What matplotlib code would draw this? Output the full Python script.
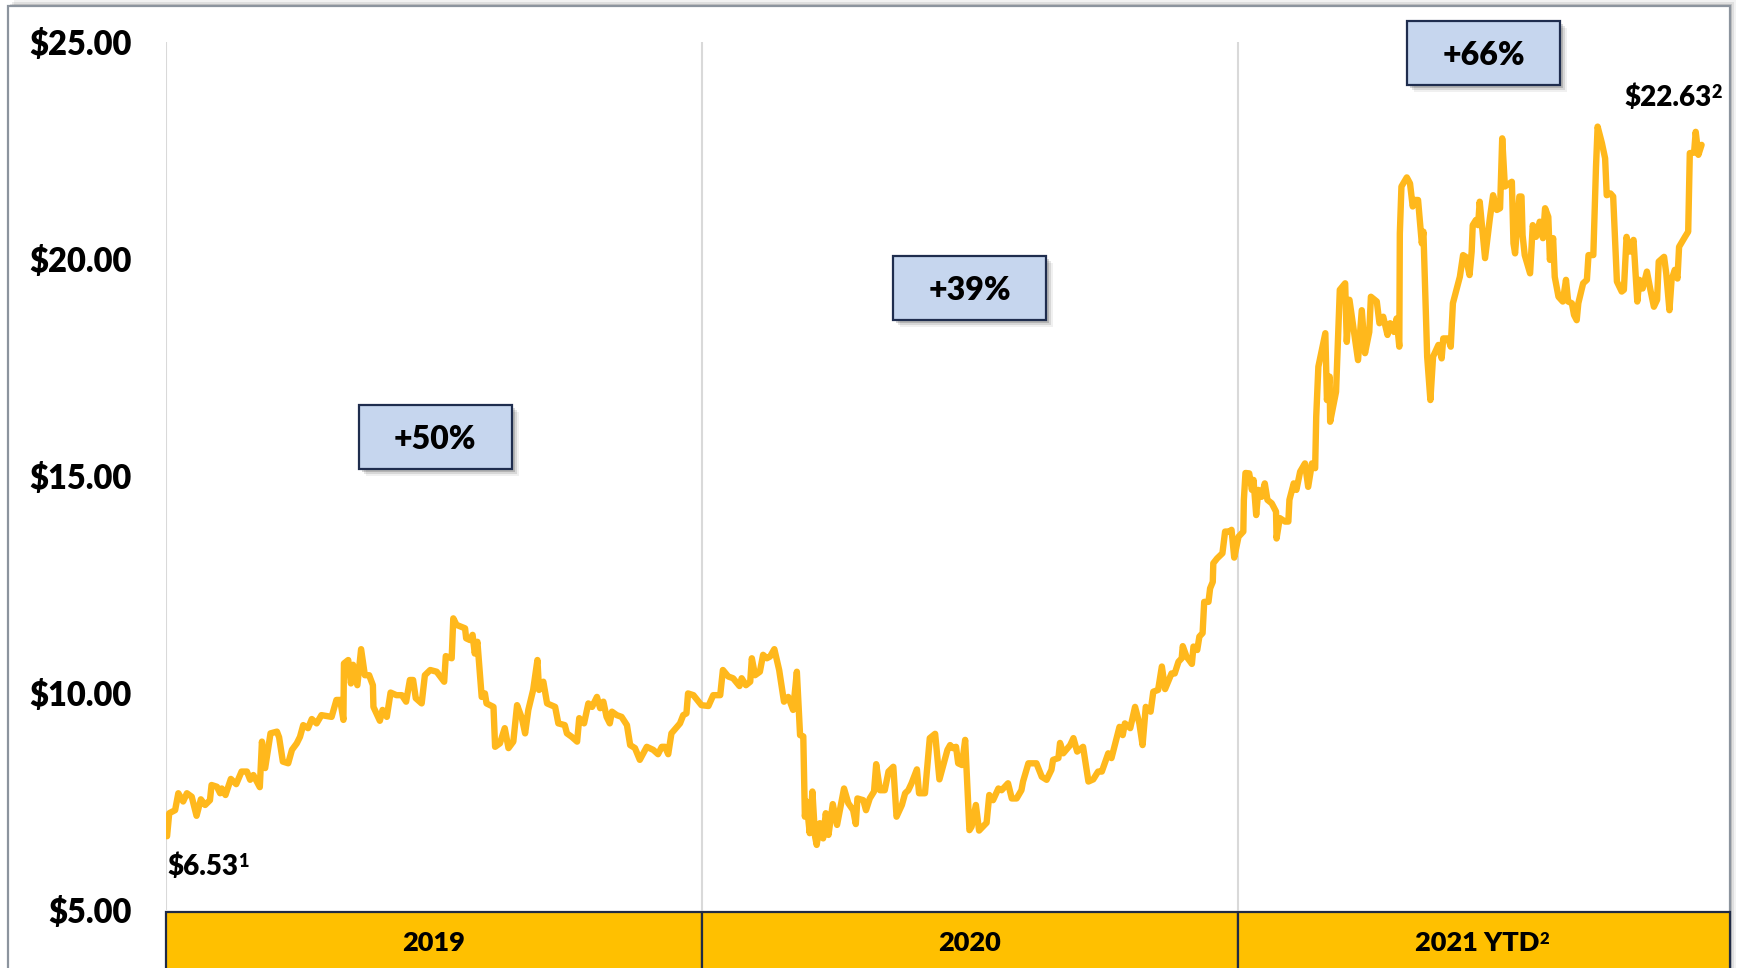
import matplotlib
matplotlib.use("Agg")
import matplotlib.pyplot as plt
from matplotlib.patches import Rectangle

plt.rcParams['font.family'] = ['Lato', 'DejaVu Sans']
plt.rcParams['text.parse_math'] = False
WEIGHT = "heavy"

# ---------------- data (years elapsed since 1 Jan 2019, share price $) ----------------
years_elapsed = [
    0.002, 0.006, 0.017, 0.023, 0.032, 0.039, 0.048, 0.057, 0.065, 0.073, 0.082, 0.085, 0.095, 0.101,
    0.104, 0.111, 0.121, 0.131, 0.141, 0.151, 0.157, 0.163, 0.175, 0.179, 0.185, 0.195, 0.207, 0.211,
    0.218, 0.228, 0.235, 0.244, 0.250, 0.256, 0.265, 0.272, 0.281, 0.290, 0.309, 0.318, 0.325, 0.331,
    0.332, 0.340, 0.345, 0.349, 0.357, 0.364, 0.371, 0.379, 0.386, 0.387, 0.399, 0.404, 0.412, 0.419,
    0.430, 0.440, 0.448, 0.455, 0.461, 0.466, 0.477, 0.483, 0.493, 0.505, 0.519, 0.522, 0.533, 0.536,
    0.542, 0.558, 0.560, 0.567, 0.572, 0.576, 0.581, 0.589, 0.595, 0.598, 0.611, 0.614, 0.623, 0.632,
    0.639, 0.648, 0.655, 0.664, 0.670, 0.676, 0.685, 0.693, 0.696, 0.704, 0.711, 0.726, 0.732, 0.744,
    0.748, 0.757, 0.767, 0.771, 0.780, 0.788, 0.795, 0.804, 0.810, 0.816, 0.822, 0.828, 0.832, 0.841,
    0.850, 0.860, 0.866, 0.875, 0.884, 0.897, 0.909, 0.918, 0.925, 0.931, 0.937, 0.943, 0.959, 0.965,
    0.971, 0.974, 0.984, 0.999, 1.012, 1.021, 1.034, 1.039, 1.049, 1.058, 1.070, 1.074, 1.082, 1.090,
    1.093, 1.099, 1.108, 1.114, 1.121, 1.127, 1.135, 1.144, 1.153, 1.161, 1.170, 1.177, 1.183, 1.189,
    1.192, 1.195, 1.201, 1.206, 1.211, 1.214, 1.220, 1.226, 1.231, 1.236, 1.244, 1.252, 1.265, 1.273,
    1.282, 1.287, 1.290, 1.301, 1.306, 1.313, 1.321, 1.325, 1.332, 1.341, 1.348, 1.357, 1.363, 1.373,
    1.379, 1.385, 1.391, 1.401, 1.405, 1.416, 1.425, 1.435, 1.443, 1.453, 1.458, 1.463, 1.468, 1.474,
    1.478, 1.485, 1.491, 1.499, 1.503, 1.511, 1.517, 1.531, 1.536, 1.543, 1.553, 1.559, 1.571, 1.578,
    1.587, 1.596, 1.599, 1.609, 1.624, 1.634, 1.643, 1.652, 1.655, 1.665, 1.668, 1.674, 1.687, 1.693,
    1.700, 1.711, 1.721, 1.730, 1.739, 1.746, 1.758, 1.764, 1.771, 1.779, 1.785, 1.789, 1.799, 1.808,
    1.816, 1.822, 1.828, 1.837, 1.842, 1.851, 1.858, 1.864, 1.876, 1.882, 1.889, 1.895, 1.897, 1.904,
    1.914, 1.917, 1.924, 1.928, 1.934, 1.937, 1.945, 1.948, 1.953, 1.954, 1.961, 1.971, 1.976, 1.984,
    1.988, 1.993, 2.001, 2.010, 2.011, 2.014, 2.021, 2.026, 2.029, 2.034, 2.038, 2.044, 2.050, 2.055,
    2.063, 2.071, 2.072, 2.078, 2.088, 2.094, 2.096, 2.104, 2.109, 2.116, 2.125, 2.131, 2.138, 2.144,
    2.146, 2.150, 2.163, 2.166, 2.171, 2.172, 2.183, 2.190, 2.200, 2.203, 2.208, 2.216, 2.224, 2.231,
    2.237, 2.245, 2.248, 2.259, 2.264, 2.271, 2.279, 2.284, 2.291, 2.296, 2.301, 2.302, 2.305, 2.315,
    2.321, 2.326, 2.330, 2.336, 2.343, 2.346, 2.353, 2.359, 2.364, 2.374, 2.380, 2.383, 2.392, 2.397,
    2.401, 2.414, 2.420, 2.425, 2.432, 2.436, 2.438, 2.444, 2.448, 2.451, 2.461, 2.470, 2.476, 2.483,
    2.489, 2.493, 2.498, 2.511, 2.514, 2.517, 2.525, 2.529, 2.531, 2.535, 2.545, 2.550, 2.556, 2.563,
    2.569, 2.573, 2.579, 2.582, 2.588, 2.591, 2.598, 2.606, 2.612, 2.616, 2.623, 2.627, 2.632, 2.635,
    2.644, 2.651, 2.654, 2.663, 2.668, 2.671, 2.679, 2.685, 2.688, 2.695, 2.700, 2.707, 2.716, 2.720,
    2.725, 2.731, 2.738, 2.745, 2.749, 2.755, 2.763, 2.769, 2.776, 2.782, 2.785, 2.795, 2.799, 2.805,
    2.809, 2.815, 2.820, 2.823, 2.834, 2.840, 2.843, 2.851, 2.854, 2.859, 2.865,
]

price = [
    6.70, 7.23, 7.30, 7.69, 7.50, 7.69, 7.61, 7.17, 7.55, 7.42, 7.53, 7.88, 7.84, 7.69,
    7.80, 7.65, 8.02, 7.90, 8.19, 8.19, 8.00, 8.11, 7.83, 8.88, 8.27, 9.07, 9.11, 8.98,
    8.42, 8.38, 8.69, 8.84, 8.99, 9.26, 9.19, 9.40, 9.30, 9.49, 9.45, 9.84, 9.84, 9.38,
    10.68, 10.76, 10.22, 10.65, 10.18, 11.01, 10.41, 10.41, 10.18, 9.68, 9.36, 9.61, 9.45, 10.01,
    9.95, 9.95, 9.80, 10.30, 10.30, 9.88, 9.76, 10.41, 10.53, 10.49, 10.26, 10.85, 10.80, 11.72,
    11.57, 11.49, 11.26, 11.22, 11.34, 10.91, 11.18, 9.91, 9.99, 9.76, 9.68, 8.76, 8.84, 9.19,
    8.73, 8.88, 9.72, 9.42, 9.07, 9.61, 10.07, 10.76, 10.07, 10.26, 9.76, 9.68, 9.30, 9.26,
    9.07, 8.99, 8.88, 9.42, 9.30, 9.76, 9.68, 9.91, 9.65, 9.80, 9.45, 9.30, 9.57, 9.49,
    9.45, 9.26, 8.80, 8.73, 8.46, 8.76, 8.69, 8.59, 8.76, 8.76, 8.59, 9.07, 9.30, 9.49,
    9.53, 9.99, 9.95, 9.72, 9.70, 9.95, 9.95, 10.53, 10.38, 10.34, 10.16, 10.34, 10.18, 10.26,
    10.80, 10.41, 10.49, 10.88, 10.80, 10.84, 11.01, 10.53, 9.80, 9.91, 9.61, 10.49, 9.03, 9.00,
    7.15, 7.50, 6.77, 7.73, 6.69, 6.50, 7.00, 6.65, 7.23, 6.73, 7.44, 6.96, 7.80, 7.46,
    7.30, 6.98, 7.57, 7.53, 7.30, 7.57, 7.73, 8.36, 7.76, 7.76, 8.19, 8.30, 7.15, 7.42,
    7.69, 7.76, 7.92, 8.24, 7.69, 7.69, 8.96, 9.06, 8.01, 8.46, 8.69, 8.80, 8.73, 8.76,
    8.38, 8.34, 8.92, 6.84, 6.92, 7.42, 6.83, 7.01, 7.65, 7.53, 7.80, 7.76, 7.92, 7.57,
    7.57, 7.76, 7.96, 8.38, 8.38, 8.07, 8.00, 8.23, 8.46, 8.50, 8.85, 8.61, 8.80, 8.96,
    8.65, 8.76, 7.96, 8.01, 8.19, 8.19, 8.61, 8.50, 8.84, 9.22, 9.03, 9.30, 9.19, 9.68,
    9.30, 8.80, 9.68, 9.57, 10.03, 10.07, 10.61, 10.09, 10.45, 10.45, 10.72, 10.80, 11.08, 10.84,
    10.67, 11.07, 10.99, 11.30, 11.38, 12.10, 12.10, 12.41, 12.56, 12.99, 13.10, 13.22, 13.72, 13.72,
    13.76, 13.12, 13.60, 13.72, 14.45, 15.07, 15.06, 14.68, 14.91, 14.10, 14.68, 14.52, 14.83, 14.45,
    14.37, 14.18, 13.56, 14.03, 13.95, 13.95, 14.45, 14.83, 14.68, 15.10, 15.29, 14.75, 15.29, 15.18,
    16.37, 17.52, 18.29, 16.75, 17.29, 16.25, 16.94, 19.29, 19.44, 18.09, 19.06, 18.36, 17.67, 18.82,
    17.83, 18.32, 19.13, 19.02, 18.52, 18.67, 18.25, 18.52, 18.32, 18.63, 17.98, 20.59, 21.67, 21.88,
    21.74, 21.21, 21.36, 21.36, 20.36, 20.63, 17.75, 16.75, 17.75, 18.02, 17.71, 18.17, 18.17, 17.98,
    18.98, 19.59, 20.09, 20.05, 19.63, 20.17, 20.78, 20.90, 20.78, 21.32, 20.02, 20.94, 21.47, 21.13,
    21.17, 22.78, 21.67, 21.78, 20.36, 20.13, 21.44, 21.44, 20.55, 20.09, 19.67, 20.78, 20.51, 20.86,
    20.48, 21.17, 20.97, 19.98, 20.48, 19.59, 19.13, 19.02, 19.52, 19.02, 18.98, 18.71, 18.59, 18.98,
    19.44, 19.52, 20.09, 20.09, 22.13, 23.05, 22.67, 22.32, 21.47, 21.51, 21.44, 19.48, 19.25, 19.29,
    20.51, 20.17, 20.44, 19.02, 19.52, 19.32, 19.71, 19.32, 18.90, 19.06, 19.94, 20.05, 19.67, 18.82,
    19.52, 19.75, 19.55, 20.28, 20.51, 20.63, 22.44, 22.45, 22.93, 22.40, 22.63,
]

y_ticks = [5, 10, 15, 20, 25]
y_tick_labels = ["$5.00", "$10.00", "$15.00", "$20.00", "$25.00"]

period_labels = ["2019", "2020", "2021 YTD"]
period_notes = ["", "", "2"]
period_start = [0.0, 1.0, 2.0]
period_end = [1.0, 2.0, 2.918]

growth_labels = ["+50%", "+39%", "+66%"]
start_label, start_note = "$6.53", "1"
end_label, end_note = "$22.63", "2"

# ---------------- layout ----------------
W, H = 1739, 968
fig = plt.figure(figsize=(W / 100, H / 100), dpi=100)
fig.patch.set_facecolor("white")

ax_left, ax_right, ax_top, ax_bottom = 166, 1730, 42, 910
band_top = 912

# outer frame with shadow (top/right)
fx0, fy0, fx1, fy1 = 8, 6, 1730, 1000
for k, a in [(6, 0.05), (4, 0.08), (2, 0.12)]:
    fig.patches.append(Rectangle(((fx0 + k) / W, 1 - (fy1 - k) / H), (fx1 - fx0) / W, (fy1 - fy0) / H,
                                 transform=fig.transFigure, facecolor="#000000", alpha=a,
                                 edgecolor="none", zorder=-3))
fig.patches.append(Rectangle((fx0 / W, 1 - fy1 / H), (fx1 - fx0) / W, (fy1 - fy0) / H,
                             transform=fig.transFigure, facecolor="white",
                             edgecolor="#8c949e", linewidth=1.6, zorder=-2))

ax = fig.add_axes([ax_left / W, 1 - ax_bottom / H, (ax_right - ax_left) / W, (ax_bottom - ax_top) / H])
ax.set_zorder(2)
ax.set_facecolor("none")
xmin, xmax = 0.0, period_end[-1]
ax.set_xlim(xmin, xmax)
ax.set_ylim(5, 25)
for s in ax.spines.values():
    s.set_visible(False)
ax.set_xticks([])
ax.set_yticks(y_ticks)
ax.set_yticklabels(y_tick_labels, fontsize=23.5, fontweight=WEIGHT, color="black")
ax.tick_params(axis="y", length=0, pad=25)

for xs in period_start:
    ax.axvline(xs, color="#d9d9d9", linewidth=1.5, zorder=1)

ax.plot(years_elapsed, price, color="#FFB81C", linewidth=4.6, solid_joinstyle="round",
        solid_capstyle="round", zorder=3)

# growth boxes
px_per_year = (ax_right - ax_left) / (xmax - xmin)
px_per_dollar = (ax_bottom - ax_top) / 20.0
bw, bh = 153 / px_per_year, 64 / px_per_dollar
box_centers = [(0.502, 15.90), (1.500, 19.33), (2.459, 24.75)]
for lab, (cx, cy) in zip(growth_labels, box_centers):
    for k, a in [(7, 0.06), (5, 0.10), (3, 0.16)]:
        ax.add_patch(Rectangle((cx - bw / 2 + k / px_per_year, cy - bh / 2 - k / px_per_dollar), bw, bh,
                               facecolor="#000000", alpha=a, edgecolor="none", clip_on=False, zorder=4))
    ax.add_patch(Rectangle((cx - bw / 2, cy - bh / 2), bw, bh, facecolor="#C6D6EE",
                           edgecolor="#1F2D4E", linewidth=1.6, clip_on=False, zorder=5))
    ax.text(cx, cy, lab, ha="center", va="center_baseline", fontsize=23, fontweight=WEIGHT,
            color="black", zorder=6, clip_on=False)


def add_note(parent_ax, main_text, note, size):
    parent_ax.annotate(note, xy=(1.0, 1.0), xycoords=main_text, xytext=(0, 0),
                       textcoords="offset points", ha="left", va="top", fontsize=size,
                       fontweight=WEIGHT, color="black", zorder=6, annotation_clip=False)


t_start = ax.text(0.002, 6.0, start_label, ha="left", va="center", fontsize=20,
                  fontweight=WEIGHT, color="black", zorder=6)
add_note(ax, t_start, start_note, 13)
t_end = ax.text(2.884, 23.72, end_label, ha="right", va="center", fontsize=20,
                fontweight=WEIGHT, color="black", zorder=6, clip_on=False)
add_note(ax, t_end, end_note, 13)

# year band
axb = fig.add_axes([ax_left / W, 0, (ax_right - ax_left) / W, 1 - band_top / H])
axb.set_zorder(2)
axb.set_xlim(xmin, xmax)
axb.set_ylim(0, 1)
axb.axis("off")
for lab, note, s0, s1 in zip(period_labels, period_notes, period_start, period_end):
    axb.add_patch(Rectangle((s0, -0.5), s1 - s0, 1.5, facecolor="#FFC000",
                            edgecolor="#1F2A44", linewidth=1.6, clip_on=False))
    shift = 0.012 if note else 0.0
    tt = axb.text((s0 + s1) / 2 - shift, 0.45, lab, ha="center", va="center", fontsize=19.5,
                  fontweight=WEIGHT, color="black")
    if note:
        add_note(axb, tt, note, 12)

fig.savefig("out.png", dpi=100, facecolor="white")
